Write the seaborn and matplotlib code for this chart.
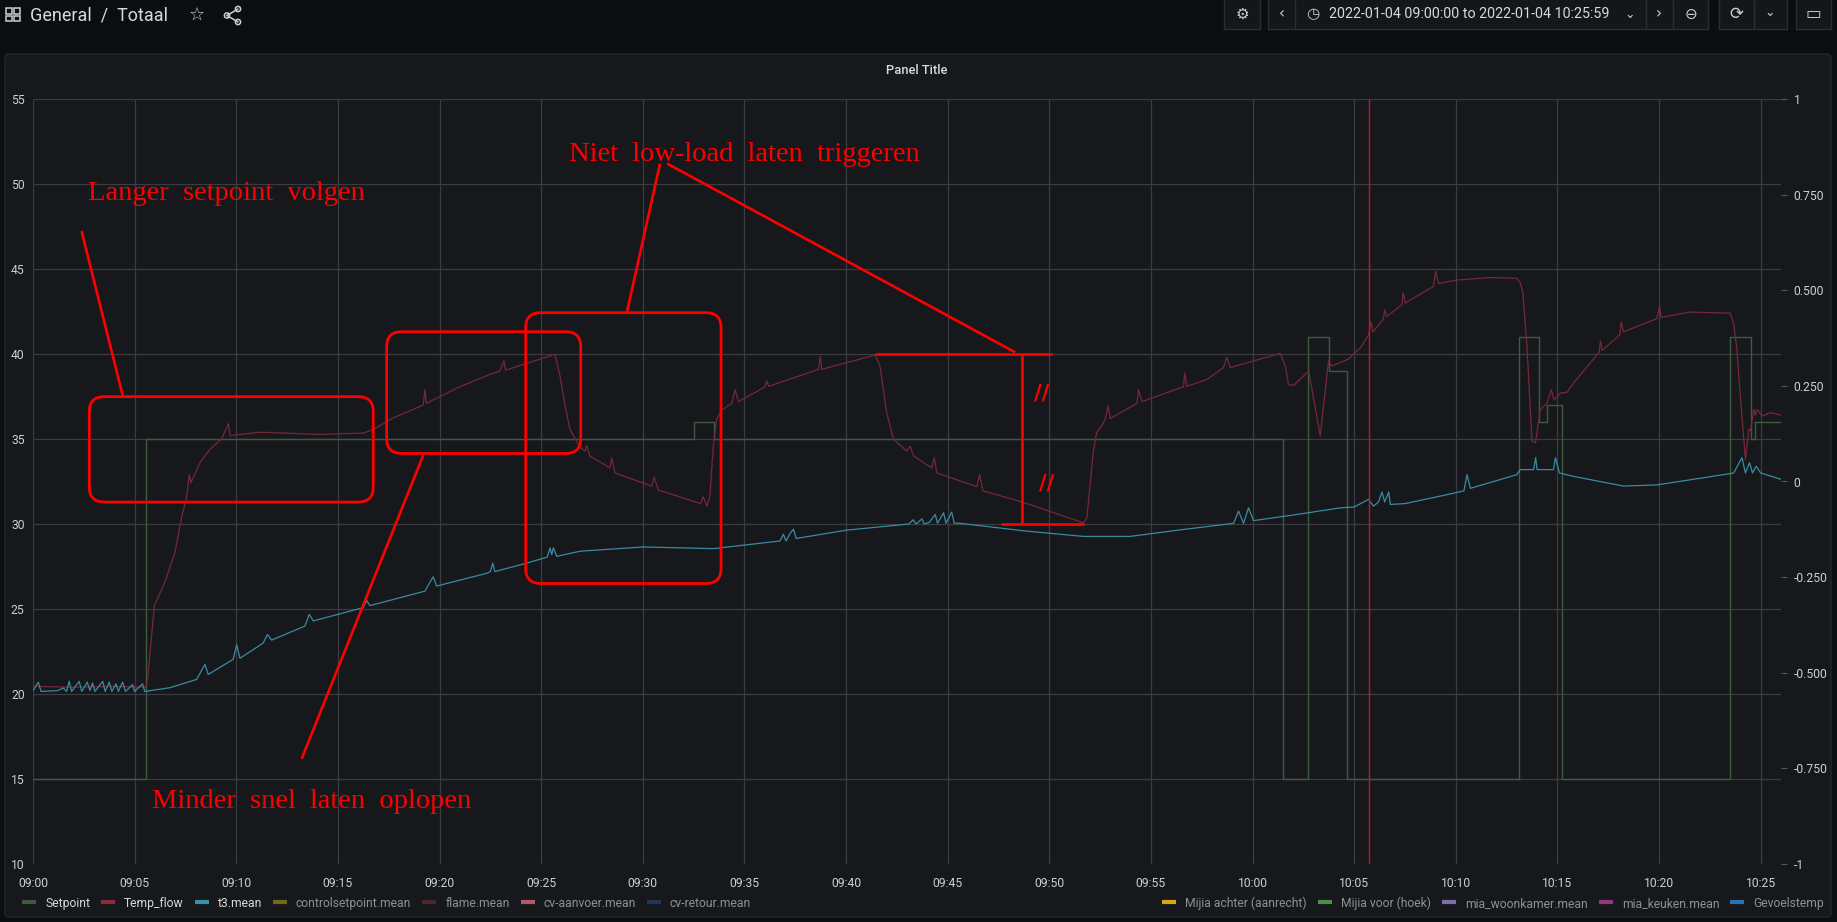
import numpy as np
import pandas as pd
import seaborn as sns
import matplotlib
matplotlib.use("Agg")
import matplotlib.pyplot as plt
import matplotlib.dates as mdates
from matplotlib.lines import Line2D
from matplotlib.patches import FancyBboxPatch, Rectangle, Circle
from matplotlib.transforms import IdentityTransform
from matplotlib.ticker import FuncFormatter

W, H = 1837, 922
START = pd.Timestamp("2022-01-04 09:00:00")
END_MIN = 86.0

# --- data: (minutes after 09:00, value) ---
setpoint_min = [0, 5.55, 32.5, 33.5, 61.5, 62.72, 63.74, 64.64, 73.09, 74.1,
                74.5, 75.24, 83.51, 84.5, 84.7, 86.0]
setpoint_val = [15, 35, 36, 35, 15, 41, 39, 15, 41, 36,
                37, 15, 41, 35, 36, 36]

temp_flow = [
    (0, 20.45), (2.0, 20.4), (4.0, 20.45), (5.55, 20.4), (5.65, 21.0), (5.97, 25.2),
    (6.33, 26.15), (6.57, 26.84), (6.74, 27.5), (6.98, 28.3), (7.31, 30.4), (7.56, 31.6),
    (7.69, 32.9), (7.77, 32.43), (8.21, 33.6), (8.71, 34.4), (9.28, 35.0), (9.61, 35.9),
    (9.7, 35.2), (11.17, 35.4), (14.12, 35.27), (16.25, 35.35), (16.74, 35.56), (17.65, 36.2),
    (19.2, 37.0), (19.28, 37.9), (19.36, 37.1), (21.01, 38.08), (22.48, 38.8), (22.97, 39.0),
    (23.17, 39.6), (23.25, 39.05), (24.29, 39.45), (25.68, 39.98), (25.93, 38.7), (26.18, 36.94),
    (26.42, 35.56), (26.92, 34.49), (27.16, 34.3), (27.24, 34.6), (27.4, 34.0), (28.39, 33.3),
    (28.47, 33.9), (28.63, 33.0), (30.44, 32.23), (30.56, 32.76), (30.76, 32.0), (32.85, 31.2),
    (32.97, 31.62), (33.15, 31.05), (33.3, 31.6), (33.47, 34.6), (33.64, 36.15), (33.89, 36.7),
    (34.38, 37.1), (34.54, 37.9), (34.71, 37.2), (36.0, 38.05), (36.1, 38.4), (36.2, 38.1),
    (38.65, 39.1), (38.73, 39.87), (38.81, 39.1), (41.43, 39.94), (41.67, 39.3), (42.0, 36.55),
    (42.33, 35.0), (42.98, 34.3), (43.15, 34.58), (43.32, 34.0), (44.22, 33.3), (44.34, 33.9),
    (44.47, 33.0), (46.44, 32.2), (46.57, 32.9), (46.74, 31.95), (48.65, 31.3), (51.68, 30.07),
    (51.85, 30.36), (52.18, 34.4), (52.34, 35.4), (52.59, 35.8), (52.75, 36.15), (52.89, 36.94),
    (53.0, 36.2), (54.31, 37.1), (54.39, 37.9), (54.56, 37.2), (56.61, 38.08), (56.66, 38.9),
    (56.77, 38.1), (57.76, 38.5), (58.57, 39.2), (58.73, 39.8), (58.9, 39.2), (61.36, 40.04),
    (61.61, 39.3), (61.77, 38.2), (62.02, 38.15), (62.76, 39.0), (63.33, 35.2), (63.74, 39.6),
    (63.9, 39.3), (64.72, 39.7), (65.05, 40.1), (65.3, 40.35), (65.71, 41.1), (65.82, 41.9),
    (65.92, 41.3), (66.44, 42.05), (66.5, 42.6), (66.6, 42.2), (67.35, 42.9), (67.41, 43.6),
    (67.52, 43.0), (68.9, 43.98), (69.01, 44.88), (69.15, 44.15), (70.06, 44.35), (71.7, 44.5),
    (73.0, 44.45), (73.17, 44.2), (73.3, 43.6), (73.5, 40.45), (73.75, 34.88), (73.92, 34.78),
    (74.16, 36.74), (74.49, 37.1), (74.7, 37.9), (74.83, 37.3), (75.14, 37.7), (75.47, 37.75),
    (75.8, 38.3), (77.05, 40.1), (77.12, 40.76), (77.2, 40.2), (78.08, 41.15), (78.14, 41.9),
    (78.25, 41.3), (79.89, 42.08), (80.03, 42.8), (80.1, 42.15), (81.53, 42.47), (83.5, 42.4),
    (83.67, 41.8), (83.83, 40.27), (84.0, 37.5), (84.25, 33.8), (84.41, 35.56), (84.5, 35.5),
    (84.66, 36.74), (84.74, 36.4), (84.82, 36.74), (85.07, 36.35), (85.48, 36.55), (86.0, 36.4),
]

t3_mean = [
    (0.0, 20.2), (0.26, 20.7), (0.4, 20.15), (1.2, 20.2), (1.5, 20.35), (1.65, 20.15),
    (1.78, 20.75), (1.9, 20.15), (2.27, 20.75), (2.4, 20.15), (2.67, 20.7), (2.8, 20.2),
    (2.93, 20.65), (3.05, 20.15), (3.43, 20.75), (3.55, 20.15), (3.75, 20.7), (3.88, 20.15),
    (4.08, 20.6), (4.2, 20.15), (4.41, 20.7), (4.55, 20.15), (4.9, 20.55), (5.0, 20.15),
    (5.39, 20.6), (5.5, 20.15), (6.74, 20.37), (8.05, 20.86), (8.46, 21.74), (8.62, 21.15),
    (9.85, 22.04), (10.02, 22.9), (10.18, 22.1), (11.33, 23.0), (11.53, 23.5), (11.74, 23.17),
    (13.38, 24.0), (13.59, 24.68), (13.79, 24.3), (16.25, 25.08), (16.41, 25.5), (16.58, 25.2),
    (19.28, 26.05), (19.69, 26.9), (19.86, 26.35), (22.32, 27.1), (22.5, 27.2), (22.62, 27.7),
    (22.72, 27.2), (24.29, 27.7), (25.3, 28.05), (25.44, 28.6), (25.52, 28.2), (25.6, 28.6),
    (25.77, 28.1), (26.92, 28.4), (30.03, 28.65), (33.47, 28.55), (36.75, 29.0), (36.92, 29.4),
    (37.05, 29.0), (37.25, 29.45), (37.41, 29.7), (37.55, 29.15), (40.04, 29.64), (43.1, 30.0),
    (43.3, 30.25), (43.45, 30.0), (43.73, 30.3), (43.85, 30.0), (44.1, 30.1), (44.39, 30.56),
    (44.5, 30.05), (44.8, 30.66), (44.92, 30.05), (45.2, 30.7), (45.32, 30.05), (45.6, 30.04),
    (48.73, 29.6), (51.68, 29.27), (53.98, 29.27), (56.61, 29.68), (59.07, 30.04), (59.31, 30.76),
    (59.56, 30.04), (59.8, 30.95), (60.05, 30.2), (62.18, 30.56), (64.32, 30.95), (65.0, 31.0),
    (65.71, 31.45), (65.95, 31.05), (66.2, 31.3), (66.37, 31.88), (66.5, 31.3), (66.7, 31.88),
    (66.78, 31.15), (67.5, 31.2), (69.24, 31.64), (70.4, 31.95), (70.55, 32.9), (70.72, 32.1),
    (73.0, 32.9), (73.16, 33.2), (73.83, 33.2), (73.93, 33.9), (74.0, 33.2), (74.81, 33.2),
    (74.9, 33.9), (75.1, 33.0), (75.8, 32.8), (78.25, 32.23), (79.89, 32.3), (82.35, 32.75),
    (83.67, 33.0), (84.08, 33.9), (84.25, 33.0), (84.45, 33.6), (84.6, 33.0), (84.78, 33.4),
    (85.0, 33.0), (86.0, 32.63),
]

annotation_min = 65.71

legend_left = ["Setpoint", "Temp_flow", "t3.mean", "controlsetpoint.mean",
               "flame.mean", "cv-aanvoer.mean", "cv-retour.mean"]
legend_left_colors = ["#3c5b40", "#8c2b3b", "#3a8fa6", "#6e6a1f",
                      "#4a2729", "#b35866", "#213759"]
legend_right = ["Mijia achter (aanrecht)", "Mijia voor (hoek)", "mia_woonkamer.mean",
                "mia_keuken.mean", "Gevoelstemp"]
legend_right_colors = ["#d2a813", "#4f8f45", "#7c6fae", "#91397e", "#2a73b9"]
visible_series = ["Setpoint", "Temp_flow", "t3.mean"]

BG = "#0c0d10"
PANEL = "#17181c"
GRID = "#3a3c41"
TXT = "#c7d0d9"
DIM = "#8e9096"

sns.set_theme(style="dark", rc={"axes.facecolor": PANEL, "figure.facecolor": BG})
plt.rcParams['font.family'] = ['Roboto', 'DejaVu Sans']


def to_time(mins):
    return START + pd.to_timedelta(np.asarray(mins, dtype=float), unit="m")


def tnum(m):
    return mdates.date2num(START + pd.Timedelta(minutes=m))


def fig_xy(x, y):
    # pixel from top-left -> figure fraction
    return x / W, 1 - y / H


fig = plt.figure(figsize=(W / 100, H / 100), dpi=100)
fig.patch.set_facecolor(BG)

# panel background
panel = FancyBboxPatch((5, H - 917), 1826, 863, boxstyle="round,pad=0,rounding_size=3",
                       transform=IdentityTransform(), fc=PANEL, ec="#24262b", lw=1, zorder=-10)
fig.add_artist(panel)

ax = fig.add_axes([33 / W, (H - 864) / H, (1781 - 33) / W, (864 - 99) / H])
ax.set_facecolor("none")

sp_df = pd.DataFrame({"time": to_time(setpoint_min), "value": setpoint_val})
tf_df = pd.DataFrame({"time": to_time([p[0] for p in temp_flow]), "value": [p[1] for p in temp_flow]})
t3_df = pd.DataFrame({"time": to_time([p[0] for p in t3_mean]), "value": [p[1] for p in t3_mean]})

sns.lineplot(data=sp_df, x="time", y="value", ax=ax, color="#3c5b40", linewidth=1,
             drawstyle="steps-post", estimator=None)
sns.lineplot(data=tf_df, x="time", y="value", ax=ax, color="#752837", linewidth=0.9, estimator=None)
sns.lineplot(data=t3_df, x="time", y="value", ax=ax, color="#3a8ba2", linewidth=0.9, estimator=None)

ax.axvline(tnum(annotation_min), color="#c8141f", lw=1, zorder=4)

ax.set_xlim(tnum(0), tnum(END_MIN))
ax.set_ylim(10, 55)
ax.set_yticks(np.arange(10, 56, 5))
ax.xaxis.set_major_locator(mdates.MinuteLocator(byminute=range(0, 60, 5)))
ax.xaxis.set_major_formatter(mdates.DateFormatter("%H:%M"))
ax.grid(True, color=GRID, lw=0.9)
ax.set_xlabel("")
ax.set_ylabel("")
for s in ax.spines.values():
    s.set_visible(False)
ax.tick_params(axis="both", length=0, colors=TXT, labelsize=8.7)
ax.tick_params(axis="y", pad=6)
ax.tick_params(axis="x", pad=9)

ax2 = ax.twinx()
ax2.set_ylim(-1, 1)
ax2.set_yticks(np.arange(-1, 1.01, 0.25))
ax2.yaxis.set_major_formatter(FuncFormatter(
    lambda v, p: str(int(round(v))) if abs(v - round(v)) < 1e-9 else f"{v:.3f}"))
ax2.grid(False)
for s in ax2.spines.values():
    s.set_visible(False)
ax2.tick_params(axis="y", length=4, width=0.8, color="#55575c", colors=TXT,
                labelsize=8.7, pad=5)
ax2.tick_params(axis="y", color="#55575c")

# --- hand drawn red annotations (data coordinates: minutes, value) ---
RED = "#ff0000"
ann_lines = [
    ((2.39, 47.23), (4.44, 37.43)),
    ((13.22, 16.19), (19.2, 34.05)),
    ((30.85, 51.2), (29.21, 42.4)),
    ((31.2, 51.2), (48.32, 40.1)),
    ((41.43, 40.0), (50.13, 40.0)),
    ((48.68, 40.0), (48.68, 30.0)),
    ((47.63, 30.0), (51.72, 30.0)),
]
for (m0, v0), (m1, v1) in ann_lines:
    ax.add_line(Line2D([tnum(m0), tnum(m1)], [v0, v1], color=RED, lw=1.9,
                       solid_capstyle="butt", zorder=6))

ann_boxes = [(2.77, 31.29, 16.74, 37.49), (17.4, 34.15, 26.95, 41.31), (24.24, 26.5, 33.85, 42.43)]
fig.canvas.draw()
for m0, v0, m1, v1 in ann_boxes:
    (x0, y0), (x1, y1) = ax.transData.transform([(tnum(m0), v0), (tnum(m1), v1)])
    fig.add_artist(FancyBboxPatch((x0, y0), x1 - x0, y1 - y0,
                                  boxstyle="round,pad=0,rounding_size=15",
                                  transform=IdentityTransform(), fill=False, ec=RED, lw=2.0, zorder=6))

serif = dict(family=["Liberation Serif", "DejaVu Serif"], color=RED, fontsize=20.5, zorder=7)
ax.text(tnum(2.72), 49.06, "Langer  setpoint  volgen", ha="left", va="baseline", **serif)
ax.text(tnum(26.39), 51.38, "Niet  low-load  laten  triggeren", ha="left", va="baseline", **serif)
ax.text(tnum(5.87), 13.27, "Minder  snel  laten  oplopen", ha="left", va="baseline", **serif)
ax.text(tnum(49.64), 37.66, "//", ha="center", va="center", color=RED, fontsize=15,
        fontweight="bold", family="DejaVu Sans", zorder=7)
ax.text(tnum(49.88), 32.4, "//", ha="center", va="center", color=RED, fontsize=15,
        fontweight="bold", family="DejaVu Sans", zorder=7)

# --- legends ---
def make_legend(labels, colors, loc, anchor):
    handles = [Line2D([], [], color=c, lw=3, solid_capstyle="butt") for c in colors]
    leg = fig.legend(handles, labels, loc=loc, bbox_to_anchor=anchor, ncol=len(labels),
                     frameon=False, fontsize=8.7, handlelength=1.16, handletextpad=0.75,
                     columnspacing=0.9, borderpad=0, borderaxespad=0)
    for t in leg.get_texts():
        t.set_color("#d8d9da" if t.get_text() in visible_series else DIM)
    return leg


make_legend(legend_left, legend_left_colors, "center left", fig_xy(22, 903))
make_legend(legend_right, legend_right_colors, "center right", fig_xy(1824, 903))

# --- panel title and top bar ---
fig.text(*fig_xy(917, 70), "Panel Title", ha="center", va="center", color="#d8d9da",
         fontsize=9.3, fontweight="medium")

for gx, gy in [(6, 8), (14, 8), (6, 15.5), (14, 15.5)]:
    fig.add_artist(Rectangle((gx, H - gy - 5.5), 5.5, 5.5, transform=IdentityTransform(),
                             fill=False, ec="#c7d0d9", lw=1.1))
fig.text(*fig_xy(30, 15), "General  /  Totaal", ha="left", va="center", color="#d8d9da", fontsize=13)
fig.text(*fig_xy(197, 15), "☆", ha="center", va="center", color="#c7d0d9", fontsize=13,
         family="DejaVu Sans")
for a, b in [((227, 15.5), (238, 9)), ((227, 15.5), (238, 22))]:
    fig.add_artist(Line2D([a[0], b[0]], [H - a[1], H - b[1]], transform=IdentityTransform(),
                          color="#c7d0d9", lw=1.1))
for cx, cy in [(227, 15.5), (238, 9), (238, 22)]:
    fig.add_artist(Circle((cx, H - cy), 2.6, transform=IdentityTransform(), fc=BG,
                          ec="#c7d0d9", lw=1.1))

box_kw = dict(transform=IdentityTransform(), fc="#15161a", ec="#2c2e33", lw=1)
for x0, x1 in [(1224, 1260), (1268, 1708), (1719, 1787), (1796, 1831)]:
    fig.add_artist(Rectangle((x0, H - 29), x1 - x0, 32, **box_kw))
for xd in [1295, 1646, 1673, 1754]:
    fig.add_artist(Line2D([xd, xd], [H - 29, H], transform=IdentityTransform(),
                          color="#2c2e33", lw=1))

icon = dict(ha="center", va="center", color="#c7d0d9", family="DejaVu Sans")
fig.text(*fig_xy(1242, 14), "⚙", fontsize=11, **icon)
fig.text(*fig_xy(1282, 14), "‹", fontsize=11, **icon)
fig.text(*fig_xy(1313, 14), "◷", fontsize=11, **icon)
fig.text(*fig_xy(1329, 14.5), "2022-01-04 09:00:00 to 2022-01-04 10:25:59", ha="left", va="center",
         color="#d8d9da", fontsize=10.3)
fig.text(*fig_xy(1630, 14), "⌄", fontsize=9, **icon)
fig.text(*fig_xy(1659, 14), "›", fontsize=11, **icon)
fig.text(*fig_xy(1691, 14), "⊖", fontsize=11, **icon)
fig.text(*fig_xy(1736, 14), "⟳", fontsize=12, **icon)
fig.text(*fig_xy(1770, 13), "⌄", fontsize=9, **icon)
fig.text(*fig_xy(1813, 14), "▭", fontsize=12, **icon)

fig.savefig("out.png", dpi=100, facecolor=BG)
